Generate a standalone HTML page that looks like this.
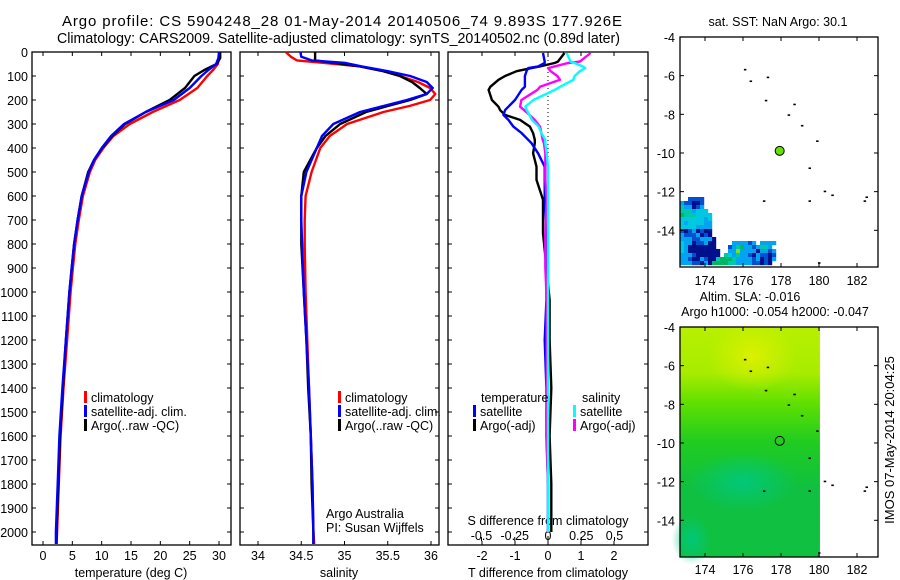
<!DOCTYPE html>
<html><head><meta charset="utf-8"><style>
html,body{margin:0;padding:0;background:#fff;}
svg{display:block;font-family:"Liberation Sans",sans-serif;}
text{fill:#000;}
</style></head><body>
<svg id="fig" width="900" height="580" viewBox="0 0 900 580">
<text x="62" y="26" font-size="15" textLength="560" lengthAdjust="spacing">Argo profile: CS 5904248_28 01-May-2014 20140506_74 9.893S 177.926E</text>
<text x="57" y="43" font-size="14.5" textLength="563" lengthAdjust="spacingAndGlyphs">Climatology: CARS2009. Satellite-adjusted climatology: synTS_20140502.nc (0.89d later)</text>
<g id="p1"></g>
<g id="p2"></g>
<g id="p3"></g>
<g id="m1"></g>
<g id="m2"></g>
<text transform="translate(894,440) rotate(-90)" font-size="13" text-anchor="middle">IMOS 07-May-2014 20:04:25</text>
</svg>
<script>
// ---------- data ----------
const tDepth=[0,25,50,75,100,150,200,250,300,350,400,450,500,600,700,800,900,1000,1200,1400,1600,1800,2000,2050];
const tClim=[30.1,30,29.8,29,28,26.3,23.3,18.7,14.8,12,10.3,8.9,8,6.8,6.1,5.5,5.1,4.7,4.1,3.5,3.0,2.7,2.4,2.3];
const tSat=[30.0,29.9,29.5,28.2,27,25,22.3,17.5,13.8,11.6,10,8.7,7.8,6.6,5.9,5.3,4.9,4.5,3.9,3.3,2.8,2.5,2.2,2.2];
const tArgo=[30.2,30.2,29.6,27.5,25.8,24.2,21.6,17.5,14,11.8,10.1,8.7,7.7,6.6,5.9,5.3,4.9,4.5,3.9,3.4,2.9,2.6,2.3,2.3];
const sDepth=[0,20,35,45,60,80,100,125,150,175,200,225,250,300,350,400,500,600,700,800,1000,1200,1400,1600,1800,2000,2050];
const sClim=[34.32,34.38,34.45,34.75,35.18,35.45,35.64,35.85,35.99,36.05,35.99,35.75,35.45,35.03,34.83,34.72,34.62,34.55,34.54,34.54,34.55,34.57,34.59,34.61,34.63,34.64,34.65];
const sSat=[34.49,34.5,34.62,35.0,35.2,35.5,35.76,35.95,36.02,35.95,35.72,35.45,35.18,34.87,34.74,34.68,34.56,34.5,34.5,34.51,34.53,34.56,34.59,34.61,34.63,34.64,34.64];
const sArgo=[34.66,34.66,34.66,34.87,35.18,35.45,35.64,35.78,35.87,35.95,35.76,35.5,35.25,34.95,34.78,34.68,34.53,34.5,34.5,34.5,34.53,34.56,34.58,34.61,34.62,34.64,34.64];
const dDepth=[4,40,46,60,67,80,100,116,145,158,200,228,242,262,283,311,338,366,380,422,478,533,616,755,895,1033,1200,1400,1600,1800,2000];
const dTSat=[-0.15,-0.1,-0.1,-0.3,-0.6,-0.65,-0.7,-0.7,-0.7,-0.8,-1.0,-1.2,-1.3,-1.35,-1.2,-1.05,-0.8,-0.6,-0.5,-0.3,-0.1,-0.1,-0.1,-0.05,-0.05,-0.05,-0.1,-0.05,-0.05,0,0];
const dTArgo=[0.5,0.3,0.2,-0.25,-0.5,-0.95,-1.3,-1.5,-1.75,-1.8,-1.7,-1.5,-1.45,-1.3,-0.85,-0.55,-0.45,-0.4,-0.4,-0.45,-0.35,-0.35,-0.15,-0.15,-0.05,0.05,0.05,0.1,0.05,0.1,0.1];
const dSSat=[0.14,0.17,0.2,0.26,0.28,0.24,0.2,0.19,0.09,0.05,-0.11,-0.17,-0.16,-0.14,-0.12,-0.07,-0.05,-0.02,-0.02,-0.01,0,0,0,0,0,0,0,0,0,0,0];
const dSArgo=[0.32,0.24,0.15,0.05,0,0.02,0.07,0.09,-0.06,-0.08,-0.2,-0.21,-0.18,-0.14,-0.1,-0.06,-0.05,-0.04,-0.03,-0.02,-0.02,-0.02,-0.01,-0.02,-0.02,-0.01,-0.01,-0.01,-0.01,0,0];
const depthTicks=[0,100,200,300,400,500,600,700,800,900,1000,1100,1200,1300,1400,1500,1600,1700,1800,1900,2000];
const tTicks=[0,5,10,15,20,25,30];
const sTicks=[34,34.5,35,35.5,36];
const dtTicks=[-2,-1,0,1,2];
const dsTicks=[-0.5,-0.25,0,0.25,0.5];
const dsTickLabels=["-0.5","-0.25","0","0.25","0.5"];
const lonTicks=[174,176,178,180,182];
const latTicks=[-4,-6,-8,-10,-12,-14];
const argoLon=177.93, argoLat=-9.89;
const sstRows=[
"..BBBB",
"LBBDDB",
"TLLDBL",
"TTTLCCC",
"GTTTCCCC",
"CCCCCCLC",
"CLCCCCLL",
"CCCCLLLL",
"BDBLDBDD",
"LBBBLDBD",
"LLLBBLLLD",
"CLLDBBLDD....LLLLBL.LLLL",
"CLDDDDDDD...BLTGLLBLTTL.",
"CLDDDDDDDD..LLYLLLLDLLBL",
"LLLBDDDDDD.TCLTLLBDLBBDB",
"LLBDDLBDDTGGGTLLLLBLDBDL",
"LLLBBDLDGGGGTTLLLLBBDBD."];
const coast=[[176.1,-5.7],[176.4,-6.3],[177.3,-6.1],[177.2,-7.3],[178.7,-7.5],[178.4,-8.05],[179.1,-8.6],[179.9,-9.4],[179.5,-10.8],[177.1,-12.5],[179.5,-12.5],[180.3,-12.0],[180.7,-12.2],[182.5,-12.3],[182.4,-12.5],[180.0,-15.7]];

// ---------- helpers ----------
const NS="http://www.w3.org/2000/svg";
function mk(parent,tag,attrs){const e=document.createElementNS(NS,tag);for(const k in attrs)e.setAttribute(k,attrs[k]);parent.appendChild(e);return e;}
const Y0=52,Y1=545;
const yD=d=>Y0+0.24*d;
function axisBox(g,x0,x1,name){
  const r=mk(g,'rect',{x:x0,y:Y0,width:x1-x0,height:Y1-Y0,fill:'none',stroke:'#000','stroke-width':1.3});
  
  
  depthTicks.forEach(d=>{
    mk(g,'line',{x1:x0,x2:x0+4,y1:yD(d),y2:yD(d),stroke:'#000'});
    mk(g,'line',{x1:x1-4,x2:x1,y1:yD(d),y2:yD(d),stroke:'#000'});
  });
}
function line(g,xs,ds,sx,color,name,w){
  let p='';xs.forEach((v,i)=>{p+=(i?'L':'M')+sx(v).toFixed(1)+','+yD(ds[i]).toFixed(1);});
  const e=mk(g,'path',{d:p,fill:'none',stroke:color,'stroke-width':w||2.4,'stroke-linejoin':'round'});
  
  
}
function txt(g,x,y,s,size,anchor,name){
  const e=mk(g,'text',{x:x,y:y,'font-size':size,'text-anchor':anchor||'start'});
  e.textContent=s;
  
  
  return e;
}
function legend(g,x,y,color,label,name){
  mk(g,'rect',{x:x,y:y-11,width:3,height:12,fill:color});
  txt(g,x+7,y,label,12.5,'start',name);
}

// ---------- panel 1 temperature ----------
const p1=document.getElementById('p1');
const sxT=t=>43+t*176/30;
axisBox(p1,32,231,'temperature-panel');
depthTicks.forEach(d=>txt(p1,28,yD(d)+5,String(d),12.5,'end','depth-tick-label'));
tTicks.forEach(t=>{mk(p1,'line',{x1:sxT(t),x2:sxT(t),y1:Y1,y2:Y1-4,stroke:'#000'});mk(p1,'line',{x1:sxT(t),x2:sxT(t),y1:Y0,y2:Y0+4,stroke:'#000'});txt(p1,sxT(t),560,String(t),12.5,'middle','temperature-tick-label');});
txt(p1,131,577,'temperature (deg C)',12.5,'middle','temperature-axis-title');
line(p1,tClim,tDepth,sxT,'#f00','temperature-climatology-line');
line(p1,tArgo,tDepth,sxT,'#000','temperature-argo-line');
line(p1,tSat,tDepth,sxT,'#00f','temperature-satellite-line');
legend(p1,84,402,'#f00','climatology','legend-climatology');
legend(p1,84,416,'#00f','satellite-adj. clim.','legend-satellite');
legend(p1,84,430,'#000','Argo(..raw -QC)','legend-argo');

// ---------- panel 2 salinity ----------
const p2=document.getElementById('p2');
const sxS=s=>258+(s-34)*86.5;
axisBox(p2,240,439,'salinity-panel');
sTicks.forEach(s=>{mk(p2,'line',{x1:sxS(s),x2:sxS(s),y1:Y1,y2:Y1-4,stroke:'#000'});mk(p2,'line',{x1:sxS(s),x2:sxS(s),y1:Y0,y2:Y0+4,stroke:'#000'});txt(p2,sxS(s),560,String(s),12.5,'middle','salinity-tick-label');});
txt(p2,339,577,'salinity',12.5,'middle','salinity-axis-title');
line(p2,sClim,sDepth,sxS,'#f00','salinity-climatology-line');
line(p2,sArgo,sDepth,sxS,'#000','salinity-argo-line');
line(p2,sSat,sDepth,sxS,'#00f','salinity-satellite-line');
legend(p2,338,402,'#f00','climatology','legend-climatology-s');
legend(p2,338,416,'#00f','satellite-adj. clim.','legend-satellite-s');
legend(p2,338,430,'#000','Argo(..raw -QC)','legend-argo-s');
txt(p2,326,518,'Argo Australia',12.5,'start','credit-argo-australia');
txt(p2,326,532,'PI: Susan Wijffels',12.5,'start','credit-pi');

// ---------- panel 3 differences ----------
const p3=document.getElementById('p3');
const sxDT=v=>548+v*33;
const sxDS=v=>548+v*133;
axisBox(p3,448,648,'difference-panel');
mk(p3,'line',{x1:548,x2:548,y1:Y0,y2:Y1,stroke:'#000','stroke-dasharray':'1,3'});
dtTicks.forEach(t=>{mk(p3,'line',{x1:sxDT(t),x2:sxDT(t),y1:Y1,y2:Y1-4,stroke:'#000'});mk(p3,'line',{x1:sxDT(t),x2:sxDT(t),y1:Y0,y2:Y0+4,stroke:'#000'});txt(p3,sxDT(t),560,String(t),12.5,'middle','t-diff-tick-label');});
dsTicks.forEach((s,i)=>{mk(p3,'line',{x1:sxDS(s),x2:sxDS(s),y1:Y1-4,y2:Y1-8,stroke:'#000'});txt(p3,sxDS(s),540,dsTickLabels[i],12.5,'middle','s-diff-tick-label');});
txt(p3,548,525,'S difference from climatology',12.5,'middle','s-diff-axis-title');
txt(p3,548,577,'T difference from climatology',12.5,'middle','t-diff-axis-title');
line(p3,dTArgo,dDepth,sxDT,'#000','t-diff-argo-line');
line(p3,dTSat,dDepth,sxDT,'#00f','t-diff-satellite-line');
line(p3,dSArgo,dDepth,sxDS,'#f0f','s-diff-argo-line');
line(p3,dSSat,dDepth,sxDS,'#0ff','s-diff-satellite-line');
txt(p3,481,402,'temperature',12.5,'start','legend-temperature-heading');
legend(p3,473,416,'#00f','satellite','legend-t-satellite');
legend(p3,473,430,'#000','Argo(-adj)','legend-t-argo');
txt(p3,582,402,'salinity',12.5,'start','legend-salinity-heading');
legend(p3,573,416,'#0ff','satellite','legend-s-satellite');
legend(p3,573,430,'#f0f','Argo(-adj)','legend-s-argo');

// ---------- maps ----------
const MX0=680,MX1=878;
const lx=l=>705+(l-174)*19;
function mapFrame(g,top,bottom,name,labelY){
  const ly=v=>top+(-4-v)*19.33;
  const r=mk(g,'rect',{x:MX0,y:top,width:MX1-MX0,height:bottom-top,fill:'none',stroke:'#000','stroke-width':1.3});
  
  
  lonTicks.forEach(l=>{mk(g,'line',{x1:lx(l),x2:lx(l),y1:bottom,y2:bottom-4,stroke:'#000'});mk(g,'line',{x1:lx(l),x2:lx(l),y1:top,y2:top+4,stroke:'#000'});txt(g,lx(l),labelY,String(l),12.5,'middle','longitude-tick-label');});
  latTicks.forEach(v=>{mk(g,'line',{x1:MX0,x2:MX0+4,y1:ly(v),y2:ly(v),stroke:'#000'});mk(g,'line',{x1:MX1-4,x2:MX1,y1:ly(v),y2:ly(v),stroke:'#000'});txt(g,675,ly(v)+5,String(v),12.5,'end','latitude-tick-label');});
  coast.forEach(c=>{const e=mk(g,'rect',{x:lx(c[0])-1,y:ly(c[1])-1,width:2.5,height:1.6,fill:'#000'});});
  return ly;
}
// map 1 SST
const m1=document.getElementById('m1');
txt(m1,778,26,'sat. SST: NaN Argo: 30.1',12.5,'middle','sst-map-title');
const colors={D:'#00108c',B:'#0050d0',L:'#00a4f0',C:'#00c8e0',T:'#00c8a8',G:'#00b860',Y:'#80e020'};
sstRows.forEach((row,r)=>{for(let c=0;c<row.length;c++){const ch=row[c];if(colors[ch]){const e=mk(m1,'rect',{x:MX0+c*4,y:197+r*4,width:4.2,height:4.2,fill:colors[ch]});}}});
mk(m1,'rect',{x:MX0,y:267.6,width:100,height:10,fill:'#fff'});
const ly1=mapFrame(m1,37,267,'sst-map',285);
const dot=mk(m1,'circle',{cx:lx(argoLon),cy:ly1(argoLat),r:4.5,fill:'#66e000',stroke:'#000','stroke-width':1});


// map 2 SLA
const m2=document.getElementById('m2');
txt(m2,750,301,'Altim. SLA: -0.016',12.5,'middle','sla-map-title');
txt(m2,775,316,'Argo h1000: -0.054 h2000: -0.047',12.5,'middle','sla-map-subtitle');
const defs=mk(m2,'defs',{});
const lg=mk(defs,'linearGradient',{id:'slag',x1:0,y1:0,x2:0,y2:1});
[[0,'#b8f000'],[0.2,'#a8ec00'],[0.33,'#60e000'],[0.5,'#20cc20'],[0.7,'#10c040'],[1,'#10c040']].forEach(s=>mk(lg,'stop',{offset:s[0],'stop-color':s[1]}));
const rg=mk(defs,'radialGradient',{id:'slat'});
mk(rg,'stop',{offset:0,'stop-color':'#00c880','stop-opacity':0.9});mk(rg,'stop',{offset:1,'stop-color':'#00c880','stop-opacity':0});
const ry=mk(defs,'radialGradient',{id:'slay'});
mk(ry,'stop',{offset:0,'stop-color':'#e0f000','stop-opacity':0.9});mk(ry,'stop',{offset:1,'stop-color':'#e0f000','stop-opacity':0});
const bg=mk(m2,'rect',{x:MX0,y:327,width:lx(180.05)-MX0,height:230,fill:'url(#slag)'});


mk(m2,'ellipse',{cx:lx(176),cy:327+8*19.33,rx:55,ry:30,fill:'url(#slat)'});
mk(m2,'ellipse',{cx:lx(176.5),cy:327+1.5*19.33,rx:45,ry:35,fill:'url(#slay)'});
mk(m2,'ellipse',{cx:lx(173.3),cy:327+11*19.33,rx:20,ry:25,fill:'url(#slat)'});
const ly2=mapFrame(m2,327,557,'sla-map',574);
const c2=mk(m2,'circle',{cx:lx(argoLon),cy:ly2(argoLat),r:4.5,fill:'none',stroke:'#000','stroke-width':1});


</script>
</body></html>
